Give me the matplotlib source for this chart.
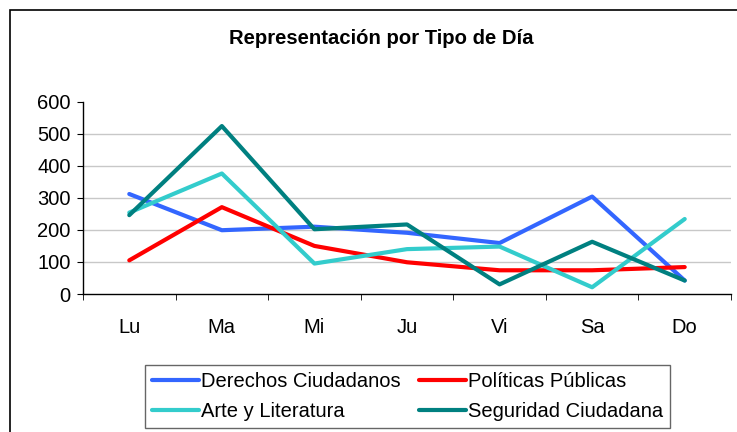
import numpy as np
import matplotlib.pyplot as plt
from matplotlib.patches import Rectangle

plt.rcParams['font.family'] = ['Liberation Sans', 'DejaVu Sans']

dias = ["Lu", "Ma", "Mi", "Ju", "Vi", "Sa", "Do"]
derechos = [312, 199, 210, 191, 159, 304, 42]
politicas = [105, 271, 150, 99, 74, 74, 84]
arte = [254, 376, 95, 140, 148, 21, 234]
seguridad = [246, 524, 202, 217, 30, 163, 42]

series = [
    ("Derechos Ciudadanos", derechos, "#3366FF"),
    ("Arte y Literatura", arte, "#33CCCC"),
    ("Políticas Públicas", politicas, "#FF0000"),
    ("Seguridad Ciudadana", seguridad, "#008080"),
]

W, H = 737, 432
fig = plt.figure(figsize=(W / 100, H / 100), dpi=100)

# outer frame of the chart area (runs past the image on right/bottom)
fig.patches.append(Rectangle((10 / W, -0.1), 1.2, (H - 10) / H + 0.1,
                             transform=fig.transFigure, fill=False,
                             edgecolor="black", linewidth=1.2))

ax = fig.add_axes([83 / W, 1 - 294 / H, (731 - 83) / W, (294 - 101.7) / H])

x = np.arange(len(dias))
# draw order: derechos, politicas, arte, seguridad
for i in [0, 2, 1, 3]:
    name, vals, col = series[i]
    ax.plot(x, vals, color=col, linewidth=3, label=name, solid_capstyle="round")

ax.set_xlim(-0.5, len(dias) - 0.5)
ax.set_ylim(0, 600)
ax.set_yticks(range(0, 601, 100))
for v in range(100, 600, 100):
    ax.axhline(v, color="#C8C8C8", linewidth=1, zorder=0)

ax.set_xticks(x)
ax.set_xticklabels(dias)
ax.set_xticks(np.arange(-0.5, len(dias), 1), minor=True)
ax.tick_params(axis="x", which="major", length=0, pad=17, labelsize=14.5)
ax.tick_params(axis="x", which="minor", length=4, direction="out")
ax.tick_params(axis="y", length=4, direction="out", pad=5, labelsize=14.5)

for s in ["top", "right"]:
    ax.spines[s].set_visible(False)
ax.spines["left"].set_linewidth(1)
ax.spines["bottom"].set_linewidth(1)

fig.text(381 / W, 1 - 38 / H, "Representación por Tipo de Día",
         ha="center", va="center", fontsize=14.6, fontweight="bold")

handles = {h.get_label(): h for h in ax.get_lines()}
order = [s[0] for s in series]
leg = fig.legend([handles[n] for n in order], order, ncol=2,
                 loc="center", bbox_to_anchor=(407.5 / W, 1 - 396.5 / H),
                 fontsize=14.5, frameon=True, fancybox=False,
                 edgecolor="#404040", handlelength=2.35, handletextpad=0.1,
                 columnspacing=0.9, labelspacing=0.55, borderpad=0.35,
                 borderaxespad=0)
leg.get_frame().set_linewidth(1)

fig.savefig("out.png", dpi=100)
